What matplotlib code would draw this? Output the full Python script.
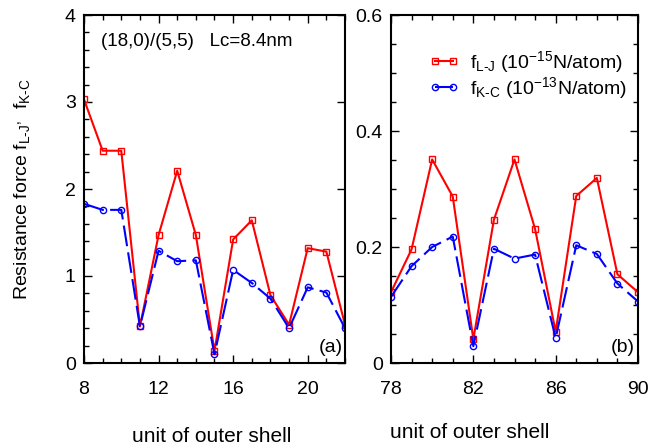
import matplotlib
matplotlib.use('Agg')
import matplotlib.pyplot as plt
from matplotlib.ticker import MultipleLocator

plt.rcParams['font.family'] = ['Liberation Sans', 'DejaVu Sans']
plt.rcParams['mathtext.fontset'] = 'custom'
plt.rcParams['mathtext.rm'] = 'Liberation Sans'
plt.rcParams['mathtext.it'] = 'Liberation Sans'
plt.rcParams['mathtext.default'] = 'rm'

# (18,0)/(5,5) tube, units 8..22
units_a = [8, 9, 10, 11, 12, 13, 14, 15, 16, 17, 18, 19, 20, 21, 22]
f_lj_a = [3.03, 2.44, 2.44, 0.42, 1.47, 2.21, 1.47, 0.14, 1.42, 1.64, 0.78, 0.44, 1.32, 1.28, 0.44]
f_kc_a = [1.83, 1.76, 1.76, 0.42, 1.29, 1.17, 1.18, 0.10, 1.07, 0.92, 0.74, 0.40, 0.87, 0.81, 0.40]

# units 78..90
units_b = [78, 79, 80, 81, 82, 83, 84, 85, 86, 87, 88, 89, 90]
f_lj_b = [0.122, 0.196, 0.351, 0.287, 0.041, 0.247, 0.351, 0.231, 0.054, 0.288, 0.319, 0.153, 0.122]
f_kc_b = [0.114, 0.167, 0.200, 0.218, 0.029, 0.197, 0.180, 0.187, 0.043, 0.203, 0.188, 0.137, 0.106]

ticks_b = [78, 82, 86, 90]

LJ_LABEL = r'f$_{\text{L-J}}$ (10$^{-15}$N/atom)'
KC_LABEL = r'f$_{\text{K-C}}$ (10$^{-13}$N/atom)'

fig = plt.figure(figsize=(6.5, 4.47), dpi=100)
ax_a = fig.add_axes([84 / 650, 1 - 363 / 447, 261 / 650, 348 / 447])
ax_b = fig.add_axes([391 / 650, 1 - 363 / 447, 247 / 650, 348 / 447])


def draw_series(ax, x, lj, kc):
    ax.plot(x, lj, color='red', lw=1.5, marker='s', ms=5, mfc='none',
            mew=1.0, label=LJ_LABEL)
    ax.plot(x, kc, color='blue', lw=1.5, marker='o', ms=4.5, mfc='none',
            mew=1.0, dashes=(10, 3), label=KC_LABEL)


def style_axes(ax):
    for sp in ax.spines.values():
        sp.set_linewidth(1.5)
    ax.tick_params(which='both', direction='in', labelsize=14, width=1.0,
                   top=True, right=True)
    ax.tick_params(which='major', length=6)
    ax.tick_params(which='minor', length=3.5)
    ax.tick_params(axis='x', which='major', pad=13)
    ax.tick_params(axis='y', which='major', pad=6)


draw_series(ax_a, units_a, f_lj_a, f_kc_a)
ax_a.set_xlim(8, 22)
ax_a.set_ylim(0, 4)
ax_a.xaxis.set_major_locator(MultipleLocator(4))
ax_a.xaxis.set_minor_locator(MultipleLocator(1))
ax_a.yaxis.set_major_locator(MultipleLocator(1))
ax_a.yaxis.set_minor_locator(MultipleLocator(0.2))
style_axes(ax_a)
ax_a.tick_params(axis='y', which='minor', right=False)
ax_a.set_ylabel(r'Resistance force f$_{\text{L-J}}$$^{,}$  f$_{\text{K-C}}$', fontsize=14)
ax_a.yaxis.set_label_coords(-0.20, 0.5)
ax_a.text(0.065, 0.925, '(18,0)/(5,5)   Lc=8.4nm', transform=ax_a.transAxes,
          fontsize=13.5, va='center', ha='left')
ax_a.text(0.99, 0.045, '(a)', transform=ax_a.transAxes, fontsize=14,
          ha='right', va='center')

draw_series(ax_b, units_b, f_lj_b, f_kc_b)
ax_b.set_xlim(78, 90)
ax_b.set_ylim(0, 0.6)
ax_b.set_xticks(ticks_b)
ax_b.xaxis.set_minor_locator(MultipleLocator(1))
ax_b.yaxis.set_major_locator(MultipleLocator(0.2))
ax_b.yaxis.set_minor_locator(MultipleLocator(0.05))
ax_b.yaxis.set_major_formatter(plt.FuncFormatter(lambda v, p: '0' if v == 0 else f'{v:.1f}'))
style_axes(ax_b)
ax_b.text(0.985, 0.045, '(b)', transform=ax_b.transAxes, fontsize=14,
          ha='right', va='center')
ax_b.legend(loc='upper left', bbox_to_anchor=(0.115, 0.93), frameon=False,
            fontsize=14, numpoints=2, handlelength=1.55, handletextpad=0.55,
            borderpad=0, labelspacing=0.0)

fig.text(212 / 650, 1 - 437 / 447, 'unit of outer shell', fontsize=15,
         ha='center', va='center')
fig.text(470 / 650, 1 - 433 / 447, 'unit of outer shell', fontsize=15,
         ha='center', va='center')

fig.savefig('out.png', dpi=100)
